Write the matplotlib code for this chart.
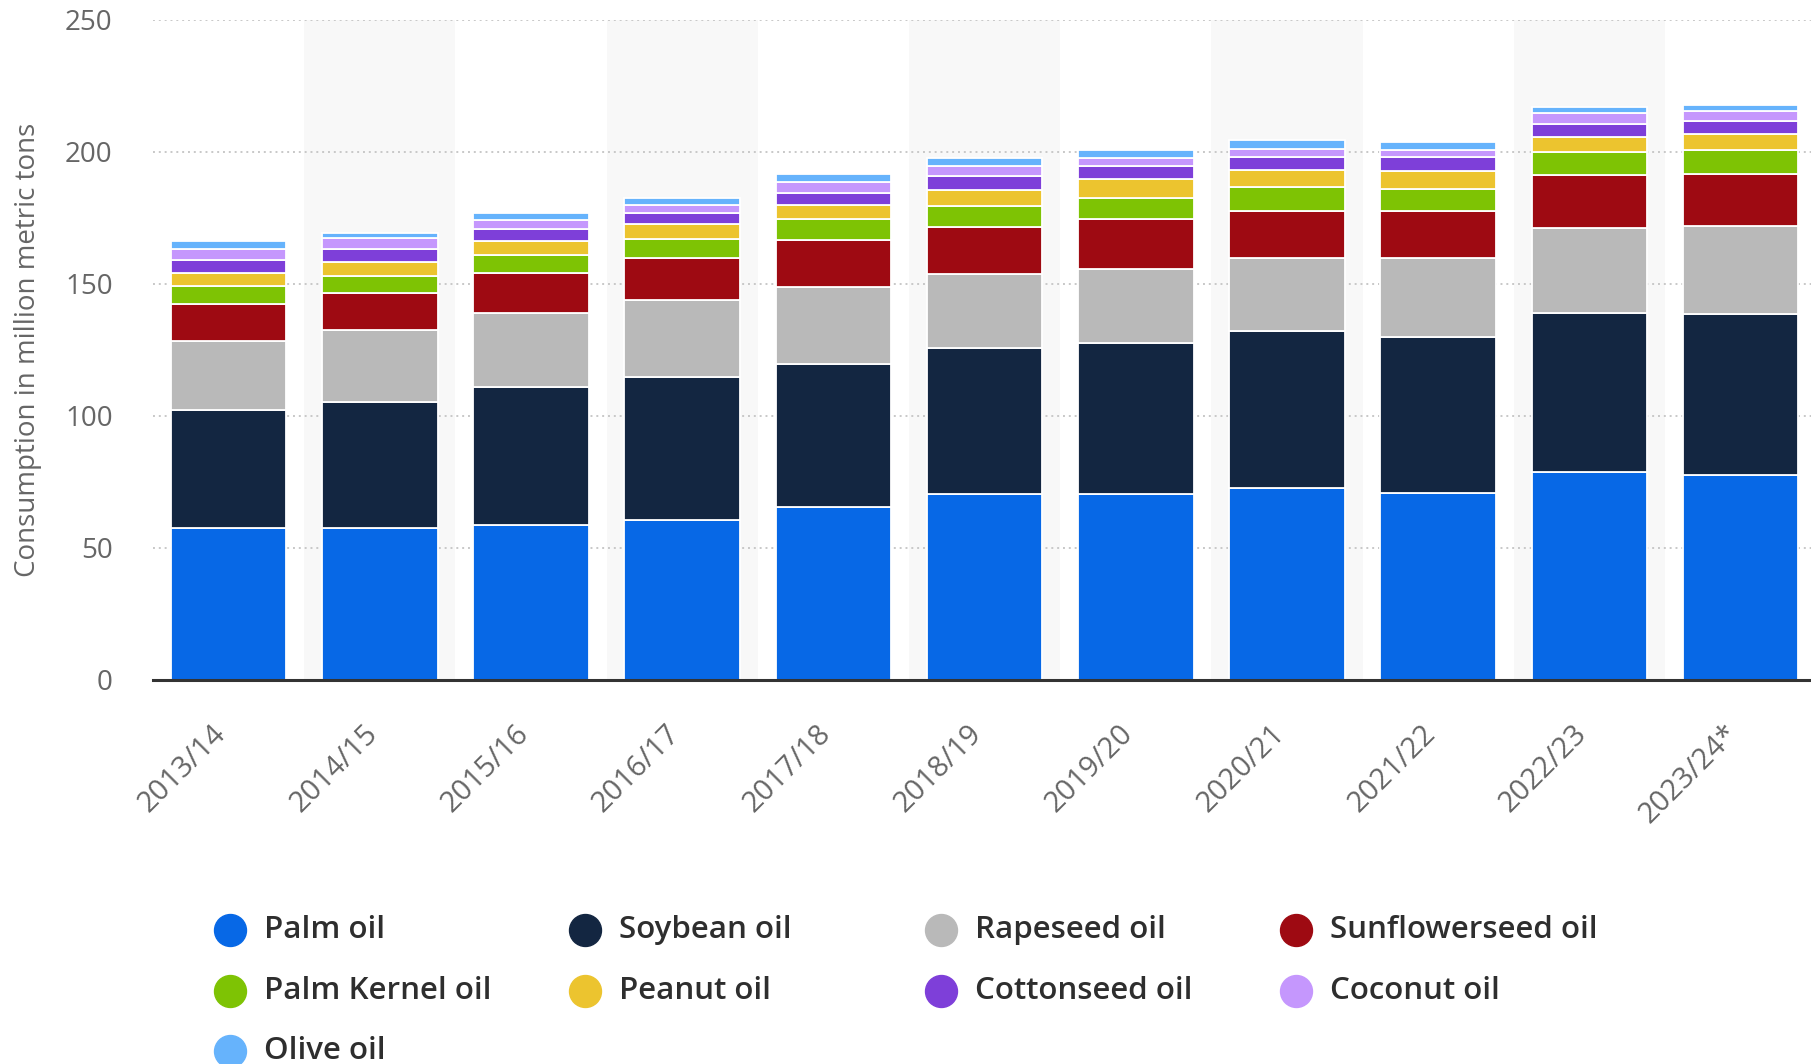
import matplotlib.pyplot as plt
from matplotlib.lines import Line2D
from matplotlib.transforms import ScaledTranslation
import numpy as np

plt.rcParams['font.family'] = ['Open Sans', 'DejaVu Sans']

seasons = ['2013/14', '2014/15', '2015/16', '2016/17', '2017/18', '2018/19',
           '2019/20', '2020/21', '2021/22', '2022/23', '2023/24*']

# million metric tons
palm = [57.7, 57.7, 58.5, 60.7, 65.6, 70.5, 70.5, 72.6, 70.8, 78.8, 77.6]
soybean = [44.7, 47.7, 52.3, 54.0, 54.1, 55.2, 56.9, 59.4, 59.1, 60.1, 61.0]
rapeseed = [26.1, 27.0, 28.3, 29.0, 29.1, 28.1, 28.3, 27.7, 29.8, 32.1, 33.3]
sunflower = [14.0, 14.0, 14.9, 16.0, 17.8, 17.5, 18.9, 17.9, 17.9, 20.1, 19.8]
palm_kernel = [6.7, 6.7, 7.0, 7.2, 8.0, 8.1, 7.7, 9.0, 8.1, 8.7, 8.8]
peanut = [4.8, 5.1, 5.1, 5.8, 5.1, 6.1, 7.2, 6.3, 6.9, 5.7, 6.2]
cottonseed = [4.9, 5.0, 4.7, 4.1, 4.8, 5.4, 5.0, 5.1, 5.3, 5.1, 4.8]
coconut = [4.3, 4.1, 3.4, 2.9, 4.2, 3.7, 3.2, 3.0, 2.6, 3.9, 3.9]
olive = [2.9, 1.8, 2.7, 2.9, 2.9, 2.9, 2.9, 3.6, 3.2, 2.4, 2.1]

names = ['Palm oil', 'Soybean oil', 'Rapeseed oil', 'Sunflowerseed oil',
         'Palm Kernel oil', 'Peanut oil', 'Cottonseed oil', 'Coconut oil',
         'Olive oil']
series = [palm, soybean, rapeseed, sunflower, palm_kernel, peanut,
          cottonseed, coconut, olive]
colors = ['#0768e6', '#132641', '#b9b9b9', '#9e0a12', '#7ec304',
          '#ecc42f', '#7e3fd9', '#c597fd', '#66b3fc']

W, H = 1811, 1064
fig = plt.figure(figsize=(W / 100, H / 100), dpi=100)
ax = fig.add_axes([153 / W, 1 - 680 / H, (W - 153) / W, (680 - 19.6) / H])

x = np.arange(len(seasons))
for i in x:
    if i % 2 == 1:
        ax.axvspan(i - 0.5, i + 0.5, color='#f8f8f8', zorder=0, lw=0)

bottom = np.zeros(len(seasons))
for vals, c in zip(series, colors):
    ax.bar(x, vals, 0.765, bottom=bottom, color=c, edgecolor='white',
           linewidth=1.3, zorder=3)
    bottom += np.array(vals)

ax.set_xlim(-0.5, -0.5 + (W - 153) / 151.2)
ax.set_ylim(0, 250)
ax.set_yticks([0, 50, 100, 150, 200, 250])
ax.yaxis.grid(True, linestyle=(0, (1, 2)), color='#c8c8c8', lw=1.4, zorder=1)
ax.set_axisbelow(True)

for s in ['top', 'right', 'left']:
    ax.spines[s].set_visible(False)
ax.spines['bottom'].set_color('#333333')
ax.spines['bottom'].set_linewidth(2.2)
ax.spines['bottom'].set_zorder(5)

ax.tick_params(axis='y', length=0, pad=29, labelsize=20, labelcolor='#666666')
ax.tick_params(axis='x', length=0, pad=14, labelsize=21, labelcolor='#666666')
ax.set_xticks(x)
ax.set_xticklabels(seasons, rotation=45, ha='right', rotation_mode='anchor')
shift = ScaledTranslation(-0.17, -0.20, fig.dpi_scale_trans)
for lab in ax.get_xticklabels():
    lab.set_transform(lab.get_transform() + shift)

ax.set_ylabel('Consumption in million metric tons', fontsize=20,
              color='#666666')
ax.yaxis.set_label_coords((42 - 153) / (W - 153), 0.5)

# legend, laid out row by row in four columns
col_x = [230, 585, 941, 1296]
row_y = [930, 991, 1051]
for k, (name, c) in enumerate(zip(names, colors)):
    r, cidx = divmod(k, 4)
    cx, cy = col_x[cidx] / W, 1 - row_y[r] / H
    fig.add_artist(Line2D([cx], [cy], marker='o', markersize=23,
                          color=c, transform=fig.transFigure))
    fig.text(cx + 34 / W, cy, name, fontsize=22.5, fontweight='semibold',
             color='#2e2e2e', va='center', ha='left')

fig.savefig('out.png', dpi=100)
